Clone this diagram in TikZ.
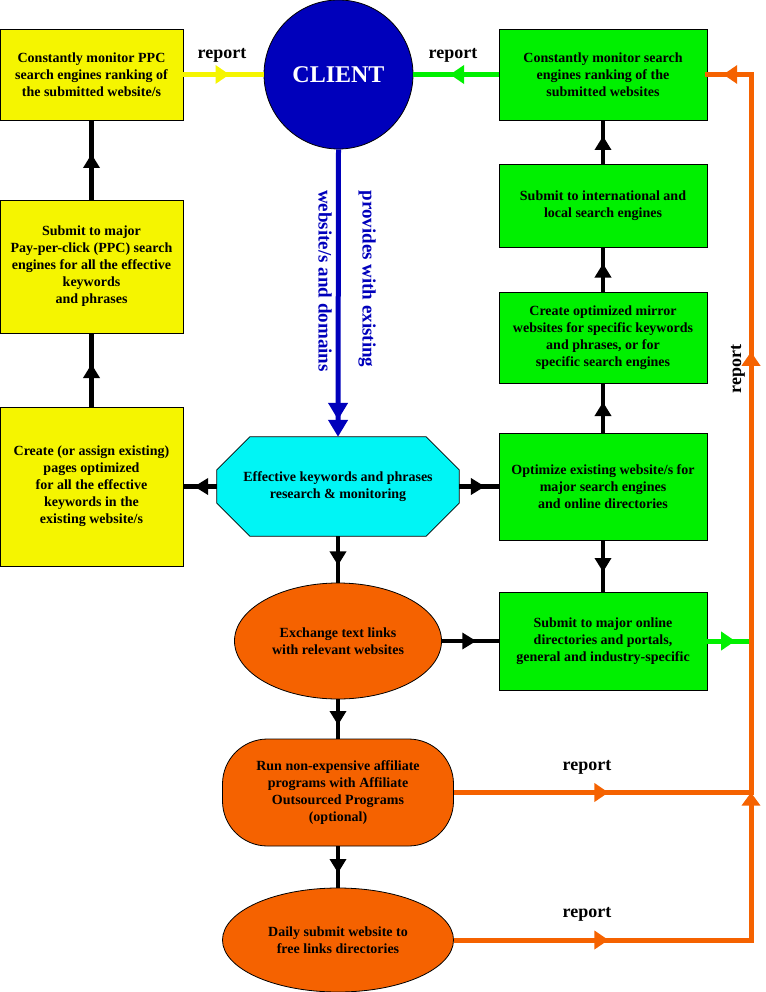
\documentclass[tikz,border=0pt]{standalone}
\usepackage{fontspec}
\setmainfont{Liberation Serif}
\usetikzlibrary{shapes.geometric,arrows.meta,decorations.markings}
\definecolor{ylw}{RGB}{245,245,0}
\definecolor{grn}{RGB}{0,240,0}
\definecolor{cyn}{RGB}{0,245,245}
\definecolor{blu}{RGB}{0,0,187}
\definecolor{org}{RGB}{245,98,0}
\begin{document}
\begin{tikzpicture}[x=1pt,y=-1pt,
  txt/.style={font=\bfseries\fontsize{14}{17}\selectfont, align=center, text=black},
  ybox/.style={txt, rectangle, draw=black, line width=0.8pt, fill=ylw, minimum width=183pt, inner sep=0pt},
  gbox/.style={txt, rectangle, draw=black, line width=0.8pt, fill=grn, minimum width=208pt, inner sep=0pt},
  obox/.style={txt, draw=black, line width=0.8pt, fill=org, inner sep=0pt},
  blk/.style={line width=4.5pt, draw=black},
  colln/.style={line width=5pt, draw=#1},
  midarr/.style={postaction={decorate}, decoration={markings, mark=at position 0.5 with {\pgftransformxshift{6pt}\arrow{Triangle[width=#1,length=14pt]}}}},
  midarr/.default=16pt,
  rep/.style={font=\bfseries\fontsize{18}{20}\selectfont, text=black, inner sep=0pt},
  bluetxt/.style={font=\bfseries\fontsize{19}{21}\selectfont, text=blu, inner sep=0pt, rotate=-90}
]
\useasboundingbox (0,0) rectangle (765,992);

% yellow column
\node[ybox, minimum height=91pt] (y1) at (91.5,74.5) {Constantly monitor PPC\\search engines ranking of\\the submitted website/s};
\node[ybox, minimum height=133pt] (y2) at (91.5,266.5) {Submit to major\\Pay-per-click (PPC) search\\engines for all the effective\\keywords\\and phrases};
\node[ybox, minimum height=159pt] (y3) at (91.5,486.5) {Create (or assign existing)\\pages optimized\\for all the effective\\keywords in the\\existing website/s};

% client
\node[circle, fill=blu, draw=black, line width=0.8pt, minimum size=149pt, inner sep=0pt, text=white, font=\bfseries\fontsize{24}{28}\selectfont] (client) at (338.5,74.5) {CLIENT};

% green column
\node[gbox, minimum height=91pt] (g1) at (603,74.5) {Constantly monitor search\\engines ranking of the\\submitted websites};
\node[gbox, minimum height=83pt] (g2) at (603,205.5) {Submit to international and\\local search engines};
\node[gbox, minimum height=91pt] (g3) at (603,337.5) {Create optimized mirror\\websites for specific keywords\\and phrases, or for\\specific search engines};
\node[gbox, minimum height=107pt] (g4) at (603,486.5) {Optimize existing website/s for\\major search engines\\and online directories};
\node[gbox, minimum height=98pt] (g5) at (603,641) {Submit to major online\\directories and portals,\\general and industry-specific};

% octagon
\node[minimum width=242pt, minimum height=99pt, inner sep=0pt] (kw) at (338,486.5) {};
\draw[fill=cyn, draw=black, line width=0.8pt]
  ([xshift=33pt]kw.north west) -- ([xshift=-33pt]kw.north east) -- ([yshift=-33pt]kw.north east)
  -- ([yshift=33pt]kw.south east) -- ([xshift=-33pt]kw.south east) -- ([xshift=33pt]kw.south west)
  -- ([yshift=33pt]kw.south west) -- ([yshift=-33pt]kw.north west) -- cycle;
\node[txt] (kwt) at (kw.center) {Effective keywords and phrases\\research \& monitoring};

% orange column
\node[obox, ellipse, minimum width=207pt, minimum height=116pt] (e1) at (338,641) {Exchange text links\\with relevant websites};
\node[obox, rectangle, rounded corners=45pt, minimum width=231pt, minimum height=107pt] (s2) at (338,792.5) {Run non-expensive affiliate\\programs with Affiliate\\Outsourced Programs\\(optional)};
\node[obox, ellipse, minimum width=231pt, minimum height=104pt] (e3) at (338,940) {Daily submit website to\\free links directories};

% black connectors
\draw[blk, midarr] (y2.north) -- (y1.south);
\draw[blk, midarr] (y3.north) -- (y2.south);
\draw[blk, midarr] (kw.west) -- (y3.east);
\draw[blk, midarr] (kw.east) -- (g4.west);
\draw[blk, midarr] (kw.south) -- (e1.north);
\draw[blk, midarr] (e1.south) -- (s2.north);
\draw[blk, midarr] (s2.south) -- (e3.north);
\draw[blk, midarr] (e1.east) -- (g5.west);
\draw[blk, midarr] (g4.south) -- (g5.north);
\draw[blk, midarr] (g4.north) -- (g3.south);
\draw[blk, midarr] (g3.north) -- (g2.south);
\draw[blk, midarr] (g2.north) -- (g1.south);

% report to client
\draw[colln=ylw, midarr=18pt] (y1.east) -- (client.west);
\draw[colln=grn, midarr=18pt] (g1.west) -- (client.east);
\node[rep] (r1) at (222,55) {report};
\node[rep] (r2) at (453,55) {report};

% client provides
\draw[colln=blu, -{Triangle[width=19pt,length=17pt]Triangle[width=19pt,length=17pt]}] (client.south) -- (kw.north);
\node[bluetxt] (bt1) at (367,279) {provides with existing};
\node[bluetxt] (bt2) at (325,281) {website/s and domains};

% orange report loop
\coordinate (j3) at (751,940);
\coordinate (j2) at (751,792.5);
\coordinate (j1) at (751,641);
\coordinate (jt) at (751,74.5);
\draw[colln=grn, midarr=18pt] (g5.east) -- (j1);
\draw[colln=org, midarr=18pt] (s2.east) -- (j2);
\draw[colln=org, midarr=18pt] (e3.east) -- (j3);
\draw[colln=org, line cap=rect, -{Triangle[width=18pt,length=13pt]}] (j3) -- (j2);
\draw[colln=org, line cap=rect] (j2) -- (j1);
\draw[colln=org, line cap=rect, midarr=18pt] (j1) -- (jt);
\draw[colln=org, line cap=rect, midarr=18pt] (jt) -- (g1.east);
\node[rep] (r3) at (587,767) {report};
\node[rep] (r4) at (587,914) {report};
\node[rep, rotate=90] (r5) at (738,369) {report};
\end{tikzpicture}
\end{document}
